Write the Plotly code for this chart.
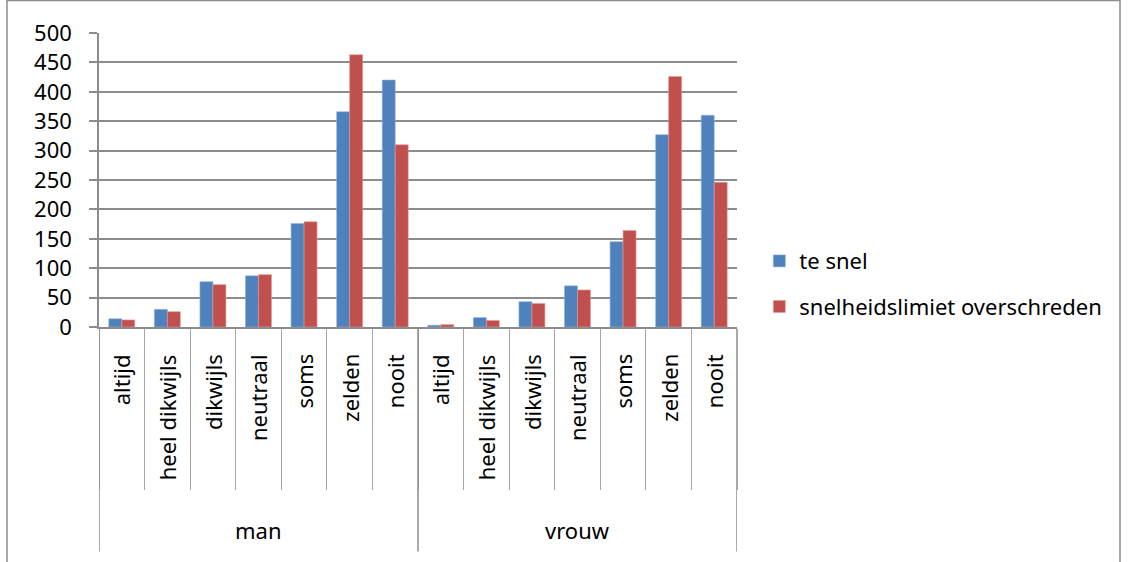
import plotly.graph_objects as go

groups = ["man", "vrouw"]
answers = ["altijd", "heel dikwijls", "dikwijls", "neutraal", "soms", "zelden", "nooit"]
te_snel = [14, 30, 77, 87, 176, 366, 420, 3, 16, 43, 70, 145, 327, 360]
limiet = [12, 26, 72, 89, 179, 463, 310, 4, 11, 40, 63, 164, 426, 246]
y_ticks = [0, 50, 100, 150, 200, 250, 300, 350, 400, 450, 500]

FONT = "Noto Sans"
BLUE = "#4F81BD"
RED = "#C0504D"
GRID = "#8C8C8C"
LIGHT = "#A6A6A6"

labels = [a for g in groups for a in answers]
xpos = list(range(len(labels)))
n = len(answers)

fig = go.Figure()
fig.add_trace(go.Bar(x=xpos, y=te_snel, name="te snel",
                     marker=dict(color=BLUE, line=dict(color="#8FB0DA", width=0.6)),
                     legendgroup="a"))
fig.add_trace(go.Bar(x=xpos, y=limiet, name="snelheidslimiet overschreden",
                     marker=dict(color=RED, line=dict(color="#E39A98", width=0.6)),
                     legendgroup="b"))

fig.update_layout(
    width=1130, height=562,
    margin=dict(l=99, r=393, t=33, b=235, autoexpand=False),
    paper_bgcolor="white", plot_bgcolor="white",
    barmode="group", bargap=0.43, bargroupgap=0,
    font=dict(family=FONT, size=22, color="black"),
    legend=dict(x=1.035, y=0.146, yanchor="middle", xanchor="left",
                font=dict(size=22), tracegroupgap=14, traceorder="grouped"),
    showlegend=True,
)
fig.update_yaxes(range=[0, 500], tickvals=y_ticks, showgrid=True, gridcolor=GRID, gridwidth=1.5,
                 showline=True, linecolor=GRID, linewidth=1.5, ticks="outside", ticklen=8,
                 tickcolor=GRID, tickwidth=1.5, ticklabelstandoff=13, zeroline=False,
                 automargin=False, tickfont=dict(size=22))
fig.update_xaxes(range=[-0.5, len(labels) - 0.5], showticklabels=False, showgrid=False,
                 zeroline=False, showline=True, linecolor=GRID, linewidth=1.5,
                 tickvals=[i - 0.5 for i in range(len(labels) + 1)],
                 ticks="outside", ticklen=161, tickcolor=LIGHT, tickwidth=1, automargin=False)

# category labels (rotated)
for x, lab in zip(xpos, labels):
    fig.add_annotation(x=x, y=-0.085, xref="x", yref="paper", text=lab, textangle=-90,
                       showarrow=False, xanchor="center", yanchor="top",
                       font=dict(size=22, family=FONT))

# group labels and dividers
for gi, g in enumerate(groups):
    fig.add_annotation(x=gi * n + (n - 1) / 2, y=-0.692, xref="x", yref="paper", text=g,
                       showarrow=False, xanchor="center", yanchor="middle",
                       font=dict(size=22, family=FONT))
for b in range(len(groups) + 1):
    fig.add_shape(type="line", xref="x", yref="paper", x0=b * n - 0.5, x1=b * n - 0.5,
                  y0=0, y1=-0.764, line=dict(color=GRID, width=1.5))

# outer chart border
fig.add_shape(type="rect", xref="paper", yref="paper", x0=-0.1442, x1=1.6003, y0=-0.9, y1=1.1105,
              line=dict(color=GRID, width=1.5), fillcolor="rgba(0,0,0,0)", layer="below")

fig.write_html("out.html")
